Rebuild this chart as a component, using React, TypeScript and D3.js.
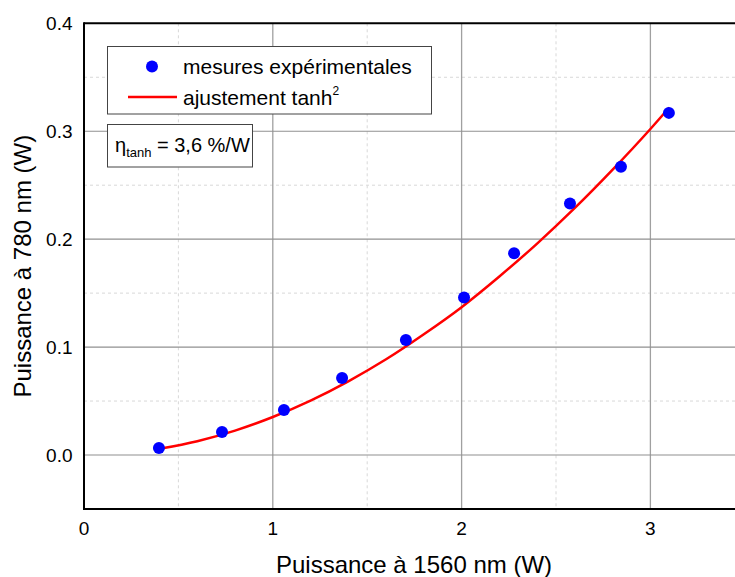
import React from "react";
import * as d3 from "d3";

const measuredX = [0.397, 0.731, 1.059, 1.367, 1.705, 2.013, 2.278, 2.574, 2.844, 3.098];
const measuredY = [0.0065, 0.0213, 0.0417, 0.0714, 0.1066, 0.146, 0.187, 0.233, 0.267, 0.317];
const fitX = [0.4, 0.6, 0.8, 1.0, 1.2, 1.4, 1.6, 1.8, 2.0, 2.2, 2.4, 2.6, 2.8, 3.0, 3.1];
const fitY = [0.0057, 0.0128, 0.0226, 0.0352, 0.0504, 0.0683, 0.0887, 0.1119, 0.137, 0.1654, 0.1959, 0.2289, 0.2644, 0.3021, 0.322];
const xTicks = [0, 1, 2, 3];
const yTicks = [0.0, 0.1, 0.2, 0.3, 0.4];
const xMinor = [0.5, 1.5, 2.5];
const yMinor = [0.05, 0.15, 0.25, 0.35];

const W = 735, H = 577;
const L = 84, T = 23.3, B = 509;

export default function App() {
  const x = d3.scaleLinear().domain([0, 1]).range([L, L + 188.8]);
  const y = d3.scaleLinear().domain([0, 0.4]).range([455, T]);
  const line = d3.line<number>().x((_, i) => x(fitX[i])).y((d) => y(d)).curve(d3.curveMonotoneX);
  const font = "'Liberation Sans', Arial, sans-serif";
  const R = W;
  return (
    <svg width={W} height={H} style={{ position: "absolute", left: 0, top: 0 }} fontFamily={font}>
      <rect x={0} y={0} width={W} height={H} fill="white" />
      {xMinor.map((v) => (
        <line key={"xm" + v} x1={x(v)} x2={x(v)} y1={T} y2={B} stroke="#d8d8d8" strokeDasharray="3,3" />
      ))}
      {yMinor.map((v) => (
        <line key={"ym" + v} x1={L} x2={R} y1={y(v)} y2={y(v)} stroke="#d8d8d8" strokeDasharray="3,3" />
      ))}
      {xTicks.filter((v) => v > 0).map((v) => (
        <line key={"xg" + v} x1={x(v)} x2={x(v)} y1={T} y2={B} stroke="#a0a0a0" strokeWidth={1.3} />
      ))}
      {yTicks.filter((v) => v < 0.4).map((v) => (
        <line key={"yg" + v} x1={L} x2={R} y1={y(v)} y2={y(v)} stroke="#909090" strokeWidth={1.2} />
      ))}
      {/* frame */}
      <line x1={L} x2={R} y1={T} y2={T} stroke="black" strokeWidth={2} />
      <line x1={L} x2={R} y1={B} y2={B} stroke="black" strokeWidth={2} />
      <line x1={L} x2={L} y1={T - 1} y2={B + 1} stroke="black" strokeWidth={2} />
      {/* ticks labels */}
      {yTicks.map((v) => (
        <text key={"yt" + v} x={72.5} y={y(v) + 6.8} textAnchor="end" fontSize={19} fill="black">
          {v.toFixed(1)}
        </text>
      ))}
      {xTicks.map((v) => (
        <text key={"xt" + v} x={x(v)} y={535} textAnchor="middle" fontSize={19} fill="black">
          {v}
        </text>
      ))}
      <text x={414} y={573} textAnchor="middle" fontSize={24} fill="black">
        Puissance à 1560 nm (W)
      </text>
      <text transform={`translate(31,${(T + B) / 2}) rotate(-90)`} textAnchor="middle" fontSize={24} fill="black">
        Puissance à 780 nm (W)
      </text>
      {/* fit curve */}
      <path d={line(fitY) || ""} fill="none" stroke="#ff0000" strokeWidth={2.5} />
      {measuredY.map((v, i) => (
        <circle key={"p" + i} cx={x(measuredX[i])} cy={y(v)} r={6} fill="#0000ff" />
      ))}
      {/* legend */}
      <rect x={107.5} y={46.5} width={324} height={67.5} fill="white" stroke="#444" strokeWidth={1} />
      <circle cx={152} cy={66.5} r={6} fill="#0000ff" />
      <text x={183} y={74} fontSize={21} fill="black">mesures expérimentales</text>
      <line x1={128} x2={177} y1={97} y2={97} stroke="#ff0000" strokeWidth={2.5} />
      <text x={183} y={105} fontSize={21} fill="black">
        ajustement tanh
        <tspan fontSize={12} dy={-10}>2</tspan>
      </text>
      {/* eta box */}
      <rect x={107.5} y={124.5} width={145} height={42.5} fill="white" stroke="#444" strokeWidth={1} />
      <text x={115} y={152} fontSize={20} fill="black">
        η
        <tspan fontSize={13} dy={5}>tanh</tspan>
        <tspan dy={-5}> = 3,6 %/W</tspan>
      </text>
    </svg>
  );
}
